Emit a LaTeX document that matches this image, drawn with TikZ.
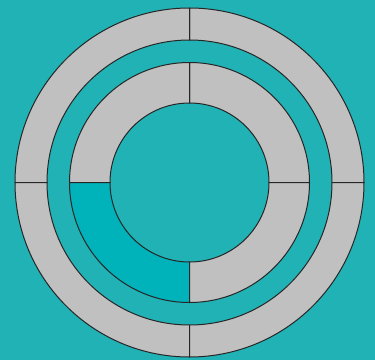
\documentclass[tikz,border=0pt]{standalone}
\definecolor{bg}{HTML}{20B2B5}
\definecolor{segc}{HTML}{C0C0C0}
\definecolor{hlc}{HTML}{00B2BA}
\begin{document}
\begin{tikzpicture}[x=1pt,y=1pt,
  segment/.style={fill=segc,draw=black!85,line width=1pt,line join=round}]
\fill[bg] (0,0) rectangle (375,360);
\useasboundingbox (0,0) rectangle (375,360);
\begin{scope}[shift={(189.5,177.5)}]
  \foreach \a in {0,90,180,270}
    \path[segment] (\a:174.5) arc[start angle=\a,end angle=\a+90,radius=174.5]
      -- (\a+90:142.5) arc[start angle=\a+90,end angle=\a,radius=142.5] -- cycle;
  \foreach \a/\c in {0/segc,90/segc,180/hlc,270/segc}
    \path[segment,fill=\c] (\a:120) arc[start angle=\a,end angle=\a+90,radius=120]
      -- (\a+90:79.5) arc[start angle=\a+90,end angle=\a,radius=79.5] -- cycle;
\end{scope}
\end{tikzpicture}
\end{document}
